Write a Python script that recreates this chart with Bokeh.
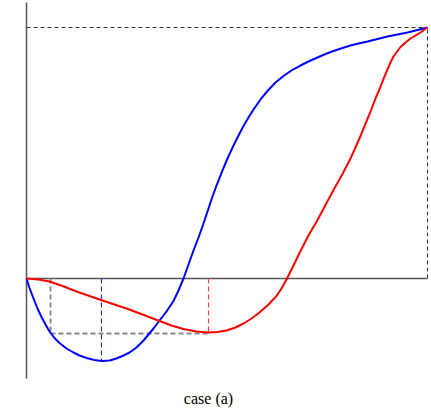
from bokeh.plotting import figure
from bokeh.models import Range1d
from bokeh.core.properties import value
from bokeh.embed import file_html
from bokeh.resources import INLINE

# Curve data (normalised units: x 0..1, y with 0 = baseline, 1 = top level)
blue_x = [0.0, 0.0075, 0.0175, 0.0274, 0.0374, 0.0474, 0.0574, 0.0698, 0.0823, 0.0998,
          0.1172, 0.1322, 0.1496, 0.1696, 0.187, 0.207, 0.2244, 0.2419, 0.2569, 0.2743,
          0.2918, 0.3042, 0.3167, 0.3317, 0.3491, 0.3666, 0.3791, 0.3915, 0.404, 0.4165,
          0.4289, 0.4414, 0.4514, 0.4613, 0.4738, 0.4888, 0.5012, 0.5162, 0.5287, 0.5411,
          0.5536, 0.5661, 0.5835, 0.601, 0.6209, 0.6409, 0.6608, 0.6833, 0.7032, 0.7257,
          0.7456, 0.7656, 0.788, 0.808, 0.8279, 0.8504, 0.8753, 0.9002, 0.9252, 0.9501,
          0.975, 1.0]
blue_y = [0.0, -0.0378, -0.0797, -0.1195, -0.1534, -0.1833, -0.2112, -0.2371, -0.257, -0.2789,
          -0.2948, -0.3068, -0.3167, -0.3247, -0.3287, -0.3267, -0.3187, -0.3068, -0.2948, -0.2749,
          -0.247, -0.2231, -0.1992, -0.1673, -0.1315, -0.0896, -0.0478, 0.0, 0.0558, 0.1116,
          0.1633, 0.2191, 0.2669, 0.3147, 0.3705, 0.4303, 0.4781, 0.5299, 0.5697, 0.6076,
          0.6414, 0.6733, 0.7132, 0.747, 0.7809, 0.8068, 0.8287, 0.8486, 0.8645, 0.8805,
          0.8944, 0.9064, 0.9183, 0.9283, 0.9363, 0.9442, 0.9542, 0.9641, 0.9721, 0.9801,
          0.99, 1.0]

red_x = [0.0, 0.0299, 0.0574, 0.0898, 0.1247, 0.1571, 0.1895, 0.2195, 0.2494, 0.2893,
         0.3317, 0.3616, 0.3915, 0.4239, 0.4539, 0.4763, 0.4988, 0.5212, 0.5411, 0.5611,
         0.581, 0.6035, 0.6234, 0.6359, 0.6484, 0.6658, 0.6833, 0.7032, 0.7257, 0.7456,
         0.7656, 0.788, 0.808, 0.8204, 0.8329, 0.8454, 0.8579, 0.8703, 0.8828, 0.8928,
         0.9002, 0.9077, 0.9152, 0.9252, 0.9327, 0.9451, 0.9576, 0.9701, 0.9825, 0.9925,
         1.0]
red_y = [0.0, -0.004, -0.012, -0.0299, -0.0518, -0.0697, -0.0876, -0.1036, -0.1195, -0.1434,
         -0.1693, -0.1873, -0.2012, -0.2112, -0.2151, -0.2131, -0.2072, -0.1952, -0.1793, -0.1594,
         -0.1355, -0.1036, -0.0697, -0.0398, -0.004, 0.0518, 0.1096, 0.1713, 0.2331, 0.2928,
         0.3526, 0.4163, 0.4781, 0.5219, 0.5677, 0.6175, 0.6653, 0.7171, 0.7649, 0.8048,
         0.8327, 0.8606, 0.8845, 0.9064, 0.9223, 0.9402, 0.9562, 0.9681, 0.9801, 0.992,
         1.0]

# Reference markers
x_black = 0.0599
y_black = -0.2191
x_blue_min = 0.187
y_blue_min = -0.3267
x_red_min = 0.4539
y_red_min = -0.2171
y_top = 1.0
x_end = 1.0
axis_y_bottom = -0.3984
axis_y_top = 1.0996
caption = ["case (a)"]
caption_x = [0.4539]
caption_y = [-0.4781]

p = figure(width=431, height=409, output_backend="svg", toolbar_location=None,
           x_axis_location=None, y_axis_location=None, min_border=0,
           x_range=Range1d(-0.06484, 1.009975), y_range=Range1d(-0.5219, 1.10757))
p.grid.visible = False
p.outline_line_color = None
p.background_fill_color = "white"
p.border_fill_color = "white"

# axes
p.line([0, 0], [axis_y_bottom, axis_y_top], line_color="#555555", line_width=1.5)
p.line([0, x_end], [0, 0], line_color="#555555", line_width=1.5)

# top and right dashed
p.line([0, x_end], [y_top, y_top], line_color="#333333", line_width=1, line_dash="4 3")
p.line([x_end, x_end], [0, y_top], line_color="#333333", line_width=1, line_dash="4 3")

# grey dashed box
p.line([x_black, x_black], [0, y_black], line_color="#888888", line_width=2, line_dash="5 3")
p.line([x_black, x_red_min], [y_black, y_black], line_color="#888888", line_width=2, line_dash="5 3")

# blue and red minima dashed
p.line([x_blue_min, x_blue_min], [0, y_blue_min], line_color="#2a2aff", line_width=1.2, line_dash="5 3")
p.line([x_red_min, x_red_min], [0, y_red_min], line_color="#ff4040", line_width=1.2, line_dash="5 3")

# curves
p.line(blue_x, blue_y, line_color="#0000ff", line_width=2, line_join="round")
p.line(red_x, red_y, line_color="#ff0000", line_width=2, line_join="round")

p.text(x=caption_x, y=caption_y, text=caption, text_align="center",
       text_baseline="alphabetic", text_font=value("Liberation Serif"),
       text_font_size="16px", text_color="black")

open("out.html", "w").write(file_html(p, INLINE))
